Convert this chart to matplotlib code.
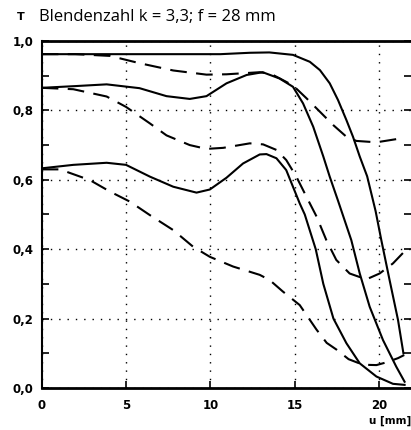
import matplotlib.pyplot as plt
from matplotlib.ticker import MultipleLocator, FuncFormatter

# Werte (u in mm, T)
u_s1 = [0, 4, 8, 10.6, 12.34, 13.5, 14.9, 15.9, 16.5, 17.08, 17.57, 18.07, 18.46, 18.86,
        19.3, 19.8, 20.14, 20.63, 21.13, 21.45]
t_s1 = [0.962, 0.962, 0.962, 0.962, 0.966, 0.967, 0.96, 0.94, 0.916, 0.878, 0.83, 0.772, 0.724, 0.667,
        0.61, 0.51, 0.426, 0.311, 0.196, 0.10]

u_s2 = [0, 2, 3.85, 5.8, 7.4, 8.78, 9.77, 10.96, 12.15, 13.1, 14.1, 14.9, 15.5, 16.1, 16.7,
        17.08, 17.57, 18.36, 18.86, 19.45, 20.24, 21.03, 21.52]
t_s2 = [0.865, 0.87, 0.875, 0.864, 0.841, 0.833, 0.841, 0.878, 0.902, 0.91, 0.892, 0.868, 0.82, 0.753, 0.667,
        0.609, 0.54, 0.426, 0.33, 0.234, 0.138, 0.061, 0.018]

u_s3 = [0, 1.87, 3.85, 5.0, 6.42, 7.8, 9.18, 9.97, 10.96, 11.94, 12.93, 13.33, 13.92, 14.5, 14.9,
        15.3, 15.6, 16.25, 16.7, 17.3, 18.07, 18.86, 19.85, 20.83, 21.52]
t_s3 = [0.633, 0.643, 0.649, 0.643, 0.609, 0.58, 0.563, 0.572, 0.606, 0.647, 0.673, 0.674, 0.662, 0.628, 0.58,
        0.532, 0.50, 0.40, 0.30, 0.20, 0.129, 0.071, 0.033, 0.012, 0.009]

u_d1 = [0, 2, 4.05, 5.8, 7.8, 9.77, 10.96, 12.93, 13.6, 14.0, 14.9, 15.7, 16.5, 17.28, 18.07,
        18.66, 19.85, 21.4]
t_d1 = [0.962, 0.962, 0.957, 0.936, 0.915, 0.903, 0.904, 0.91, 0.905, 0.895, 0.872, 0.835, 0.796, 0.758, 0.724,
        0.712, 0.708, 0.72]

u_d2 = [0, 1.87, 3.85, 5.0, 6.4, 7.4, 8.78, 9.77, 10.76, 12.34, 13.13, 13.92, 14.5, 15.1, 15.7,
        16.3, 16.88, 17.47, 18.26, 19.25, 20.04, 20.83, 21.6]
t_d2 = [0.865, 0.861, 0.84, 0.81, 0.763, 0.728, 0.70, 0.689, 0.692, 0.705, 0.702, 0.686, 0.657, 0.609, 0.551,
        0.494, 0.426, 0.369, 0.33, 0.313, 0.33, 0.359, 0.398]

u_d3 = [0, 1.08, 1.48, 2.86, 4.05, 5.23, 6.42, 7.8, 8.98, 9.97, 11.35, 12.93, 13.52, 14.3, 15.3,
        16.3, 16.9, 17.5, 18.2, 19.05, 19.85, 20.45, 21.13, 21.5]
t_d3 = [0.63, 0.63, 0.623, 0.599, 0.566, 0.537, 0.498, 0.455, 0.407, 0.378, 0.35, 0.326, 0.311, 0.278, 0.239,
        0.168, 0.13, 0.11, 0.083, 0.067, 0.066, 0.074, 0.086, 0.095]

x_ticks = [0, 5, 10, 15, 20]
y_ticks = [0.0, 0.2, 0.4, 0.6, 0.8, 1.0]

fig = plt.figure(figsize=(4.11, 4.30), dpi=100)
ax = fig.add_axes([0.1015, 0.0977, 0.8985, 0.807])

for u, t in [(u_s1, t_s1), (u_s2, t_s2), (u_s3, t_s3)]:
    ax.plot(u, t, color='black', lw=1.5, solid_joinstyle='round')
for u, t in [(u_d1, t_d1), (u_d2, t_d2), (u_d3, t_d3)]:
    ax.plot(u, t, color='black', lw=1.5, linestyle=(0, (8, 4.5)), dash_capstyle='butt')

ax.set_xlim(0, 21.9)
ax.set_ylim(0, 1.0)
ax.set_xticks(x_ticks)
ax.set_yticks(y_ticks)
ax.yaxis.set_minor_locator(MultipleLocator(0.1))
ax.yaxis.set_major_formatter(FuncFormatter(lambda v, p: f"{v:.1f}".replace('.', ',')))

ax.grid(True, which='major', color='black', linestyle=(0, (1, 5)), lw=1.0)

ax.tick_params(axis='both', which='both', direction='in', length=5, width=1.2,
               right=True, top=False, labelsize=8.5)
ax.tick_params(axis='x', pad=8)
ax.tick_params(axis='y', pad=6)
for lbl in ax.get_xticklabels() + ax.get_yticklabels():
    lbl.set_fontweight('bold')

ax.spines['right'].set_visible(False)
ax.spines['top'].set_linewidth(2)
ax.spines['bottom'].set_linewidth(2)
ax.spines['left'].set_linewidth(1.5)

fig.text(17 / 411, 1 - 17 / 430, 'T', fontsize=8, fontweight='bold', va='center', ha='left')
fig.text(39 / 411, 1 - 17 / 430, 'Blendenzahl k = 3,3; f = 28 mm', fontsize=12,
         family='Open Sans', va='center', ha='left')
fig.text(1.0, 1 - 421 / 430, 'u [mm]', fontsize=7.5, fontweight='bold', va='center', ha='right')

fig.savefig('out.png', dpi=100)
